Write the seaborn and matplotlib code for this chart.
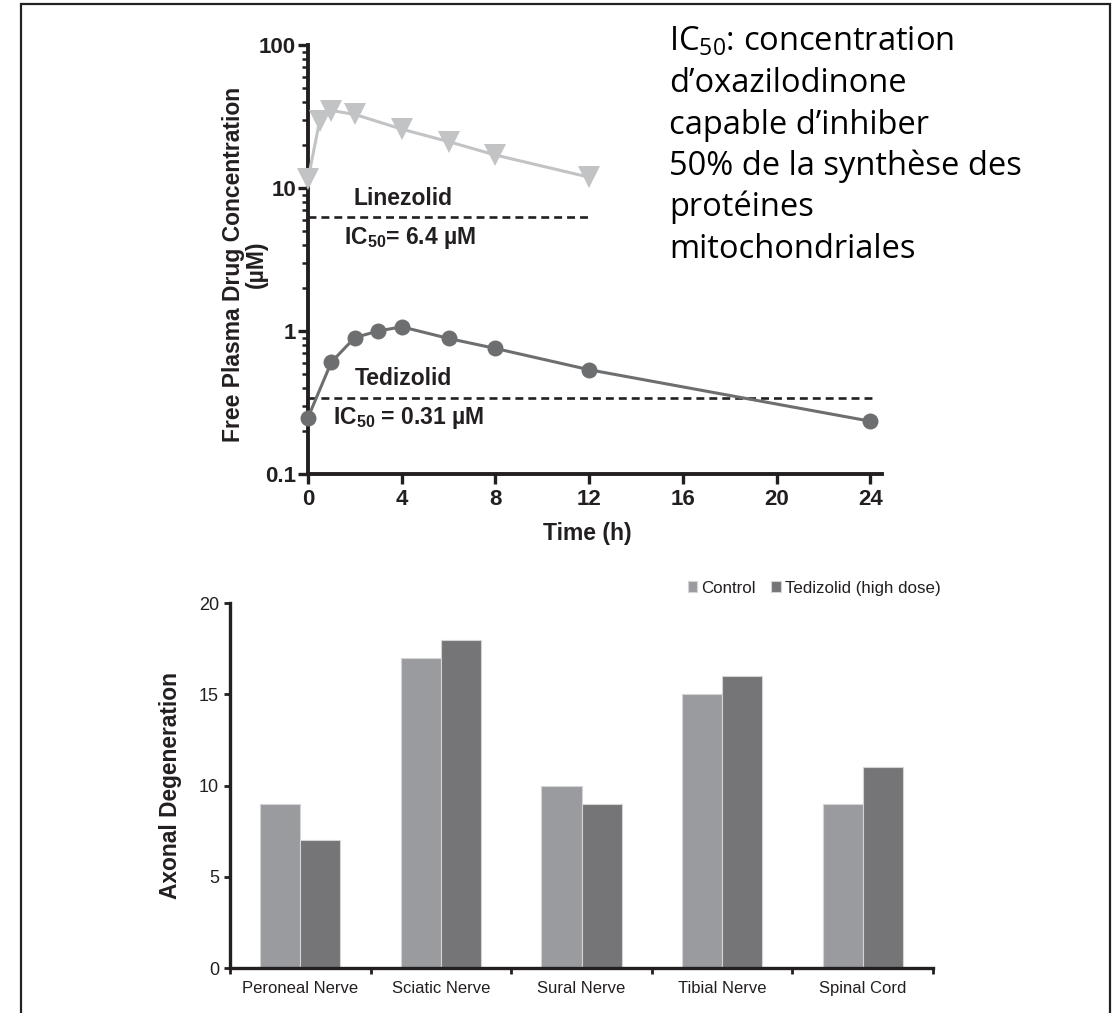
import numpy as np
import pandas as pd
import matplotlib
matplotlib.use('Agg')
import matplotlib.pyplot as plt
import seaborn as sns
from matplotlib.patches import Rectangle
from matplotlib.ticker import FixedLocator, NullFormatter, FixedFormatter

# ---------------- data ----------------
linezolid_time = [0, 0.5, 1, 2, 4, 6, 8, 12]
linezolid_conc = [11.5, 29.6, 34.8, 32.7, 25.8, 21.1, 17.0, 11.9]
tedizolid_time = [0, 1, 2, 3, 4, 6, 8, 12, 24]
tedizolid_conc = [0.248, 0.607, 0.90, 1.0, 1.07, 0.887, 0.755, 0.536, 0.234]
linezolid_ic50_line = 6.3
tedizolid_ic50_line = 0.34
time_ticks = [0, 4, 8, 12, 16, 20, 24]
conc_ticks = [0.1, 1, 10, 100]
conc_tick_labels = ['0.1', '1', '10', '100']

tissues = ['Peroneal Nerve', 'Sciatic Nerve', 'Sural Nerve', 'Tibial Nerve', 'Spinal Cord']
control_vals = [9, 17, 10, 15, 9]
tedizolid_vals = [7, 18, 9, 16, 11]
groups = ['Control', 'Tedizolid (high dose)']
deg_ticks = [0, 5, 10, 15, 20]

annotation_lines = [r'IC$_{50}$: concentration', 'd’oxazilodinone', 'capable d’inhiber',
                    '50% de la synthèse des', 'protéines', 'mitochondriales']

# ---------------- style ----------------
sns.set_theme(style='white')
plt.rcParams['font.family'] = ['Liberation Sans', 'DejaVu Sans']
plt.rcParams['mathtext.fontset'] = 'custom'
plt.rcParams['mathtext.rm'] = 'Open Sans'
plt.rcParams['mathtext.bf'] = 'Liberation Sans:bold'
plt.rcParams['mathtext.default'] = 'rm'

W, H = 1119, 1013
fig = plt.figure(figsize=(W / 100, H / 100), dpi=100)
fig.patch.set_facecolor('white')

def fx(px):
    return px / W

def fy(py):
    return 1 - py / H

TXT = '#231f20'
LIGHT = '#c2c3c5'
DARK = '#6d6e70'

# ---------------- top chart ----------------
T_L, T_R, T_T, T_B = 308, 882, 45, 474
ax1 = fig.add_axes([fx(T_L), fy(T_B), fx(T_R) - fx(T_L), fy(T_T) - fy(T_B)])
df_l = pd.DataFrame({'time': linezolid_time, 'conc': linezolid_conc})
df_t = pd.DataFrame({'time': tedizolid_time, 'conc': tedizolid_conc})
sns.lineplot(data=df_l, x='time', y='conc', ax=ax1, color=LIGHT, lw=2.2,
             marker='v', markersize=16, markeredgewidth=0, markeredgecolor=LIGHT,
             clip_on=False, zorder=5)
sns.lineplot(data=df_t, x='time', y='conc', ax=ax1, color=DARK, lw=2.2,
             marker='o', markersize=11.5, markeredgewidth=0, markeredgecolor=DARK,
             clip_on=False, zorder=5)
ax1.set_yscale('log')
ax1.set_ylim(0.1, 100)
ax1.set_xlim(0, 24.5)
ax1.plot([0, 12.1], [linezolid_ic50_line] * 2, ls=(0, (3.0, 1.9)), color=TXT, lw=1.9)
ax1.plot([0, 24.2], [tedizolid_ic50_line] * 2, ls=(0, (3.0, 1.9)), color=TXT, lw=1.9)

for s in ['top', 'right']:
    ax1.spines[s].set_visible(False)
for s in ['left', 'bottom']:
    ax1.spines[s].set_linewidth(2.8)
    ax1.spines[s].set_color(TXT)
ax1.yaxis.set_major_locator(FixedLocator(conc_ticks))
ax1.yaxis.set_major_formatter(FixedFormatter(conc_tick_labels))
minor = [m * 10.0 ** e for e in (-1, 0, 1) for m in range(2, 10)]
ax1.yaxis.set_minor_locator(FixedLocator(minor))
ax1.yaxis.set_minor_formatter(NullFormatter())
ax1.set_xticks(time_ticks)
ax1.tick_params(axis='both', which='major', direction='out', length=7, width=2.4,
                color=TXT, labelsize=16, labelcolor=TXT, left=True, bottom=True)
ax1.tick_params(axis='y', which='major', pad=1.5)
ax1.tick_params(axis='x', which='major', pad=3.5)
ax1.tick_params(axis='y', which='minor', direction='out', length=4.5, width=1.8, color=TXT, left=True)
for lab in ax1.get_xticklabels() + ax1.get_yticklabels():
    lab.set_fontweight('bold')
ax1.set_xlabel('Time (h)', fontsize=16.5, fontweight='bold', color=TXT)
ax1.xaxis.set_label_coords((587 - T_L) / (T_R - T_L), -(521.7 - T_B) / (T_B - T_T))
ax1.set_ylabel('Free Plasma Drug Concentration\n(µM)', fontsize=16.5, fontweight='bold',
               color=TXT, linespacing=1.0)
ax1.yaxis.set_label_coords((268 - T_L) / (T_R - T_L), (T_B - 264) / (T_B - T_T))
ax1.grid(False)

ax1.text(4.06, 8.5, 'Linezolid', fontsize=16.5, fontweight='bold', color=TXT, ha='center', va='center')
ax1.text(4.36, 4.47, r'$\mathbf{IC_{50}}$= 6.4 µM', fontsize=16.5, fontweight='bold', color=TXT,
         ha='center', va='center')
ax1.text(4.08, 0.469, 'Tedizolid', fontsize=16.5, fontweight='bold', color=TXT, ha='center', va='center')
ax1.text(4.3, 0.246, r'$\mathbf{IC_{50}}$ = 0.31 µM', fontsize=16.5, fontweight='bold', color=TXT,
         ha='center', va='center')

# ---------------- annotation text ----------------
for i, line in enumerate(annotation_lines):
    fig.text(fx(669), fy(51 + 41.3 * i), line, fontsize=23.5, family='Open Sans', color='black',
             ha='left', va='baseline')

# ---------------- bottom chart ----------------
B_L, B_R, B_T, B_B = 230, 933, 603, 968
ax2 = fig.add_axes([fx(B_L), fy(B_B), fx(B_R) - fx(B_L), fy(B_T) - fy(B_B)])
df_b = pd.DataFrame({
    'tissue': tissues * 2,
    'value': control_vals + tedizolid_vals,
    'group': [groups[0]] * len(tissues) + [groups[1]] * len(tissues),
})
sns.barplot(data=df_b, x='tissue', y='value', hue='group', ax=ax2,
            palette=['#9a9b9f', '#757577'], width=0.57, saturation=1,
            edgecolor='#d4d4d6', linewidth=0.8, errorbar=None)
ax2.set_ylim(0, 20)
ax2.set_xlim(-0.5, 4.5)
for s in ['top', 'right']:
    ax2.spines[s].set_visible(False)
for s in ['left', 'bottom']:
    ax2.spines[s].set_linewidth(2.4)
    ax2.spines[s].set_color(TXT)
ax2.set_yticks(deg_ticks)
ax2.tick_params(axis='y', which='major', direction='out', length=4, width=2, color=TXT,
                labelsize=13, labelcolor=TXT, left=True, pad=4)
ax2.tick_params(axis='x', which='major', length=0, labelsize=12, labelcolor=TXT, pad=9)
ax2.xaxis.set_minor_locator(FixedLocator([-0.5, 0.5, 1.5, 2.5, 3.5, 4.5]))
ax2.tick_params(axis='x', which='minor', direction='out', length=4.5, width=2, color=TXT, bottom=True)
ax2.set_xlabel('')
ax2.set_ylabel('Axonal Degeneration', fontsize=16.4, fontweight='bold', color=TXT)
ax2.yaxis.set_label_coords((182 - B_L) / (B_R - B_L), 0.5)
ax2.grid(False)

handles, labels = ax2.get_legend_handles_labels()
ax2.legend(handles, labels, ncol=2, frameon=False, loc='center left',
           bbox_to_anchor=(fx(688), fy(588)), bbox_transform=fig.transFigure,
           fontsize=12.2, handlelength=0.55, handleheight=0.55, handletextpad=0.25,
           columnspacing=0.9, borderaxespad=0, borderpad=0, labelcolor=TXT)

# ---------------- outer frame ----------------
fig.add_artist(Rectangle((fx(21), -0.05), fx(1110) - fx(21), fy(4) + 0.05,
                         transform=fig.transFigure, fill=False, lw=1.6, edgecolor='#222222'))

fig.savefig('out.png', dpi=100)
